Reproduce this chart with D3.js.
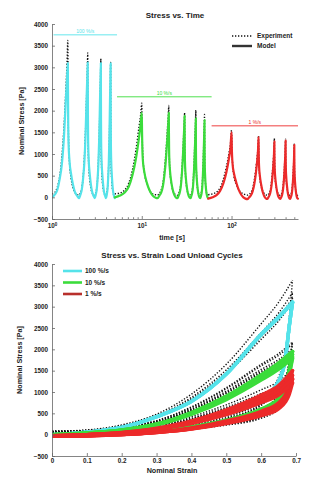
<!DOCTYPE html>
<html>
<head>
<meta charset="UTF-8">
<title>stress vs time / strain</title>
<style>
html, body { margin:0; padding:0; background:#fff; }
svg { display:block; font-family:"Liberation Sans", Arial, sans-serif; }
.axis path, .axis line { stroke:#666; stroke-width:0.8px; }
.axis text { font-size:6.3px; font-weight:bold; fill:#222; }
.title { font-size:8px; font-weight:bold; fill:#222; text-anchor:middle; }
.label { font-size:7.2px; font-weight:bold; fill:#222; text-anchor:middle; }
.legend text { font-size:6.5px; font-weight:bold; fill:#222; }
.rate { font-size:5px; text-anchor:middle; }
.exp { fill:none; stroke:#111; stroke-width:1.4px; stroke-dasharray:1.3 1.7; }
.model { fill:none; stroke-linejoin:round; stroke-linecap:round; }
</style>
<script src="https://cdnjs.cloudflare.com/ajax/libs/d3/7.8.5/d3.min.js"></script>
</head>
<body>
<script>
const rates = ['100 %/s', '10 %/s', '1 %/s'];
const rateColors = ['#55e3ea', '#3bdc3b', '#ec2a2a'];

// strain samples along a loading and an unloading branch
const loadStrain = [0, 0.1, 0.2, 0.3, 0.4, 0.5, 0.6, 0.65, 0.69];
const unloadStrain = [0.69, 0.68, 0.67, 0.65, 0.6, 0.5, 0.4, 0.3, 0.2, 0.1, 0];

// first-cycle branches per rate [Pa]
const modelLoad = [
	[0, 60, 170, 420, 780, 1420, 2350, 2750, 3100],
	[0, 40, 110, 250, 520, 900, 1400, 1680, 1950],
	[-30, 0, 50, 150, 320, 580, 930, 1150, 1500]
];
const modelUnload = [
	[3100, 2500, 1800, 1250, 850, 520, 300, 150, 70, 20, -20],
	[1950, 1500, 1150, 850, 600, 340, 180, 80, 20, -10, -20],
	[1500, 1150, 950, 750, 550, 320, 160, 60, 0, -30, -40]
];
const expLoad = [
	[80, 110, 230, 480, 950, 1650, 2600, 3100, 3620],
	[80, 100, 170, 330, 650, 1100, 1650, 1900, 2170],
	[60, 80, 120, 220, 420, 700, 1050, 1250, 1550]
];
const expUnload = [
	[3620, 2700, 2000, 1350, 800, 420, 230, 130, 80, 60, 50],
	[2170, 1700, 1300, 950, 600, 320, 170, 100, 70, 60, 50],
	[1550, 1250, 1000, 750, 480, 280, 170, 110, 80, 60, 50]
];

// peak stress of every cycle [Pa]
const modelPeaks = [[3100, 3110, 3100, 3090], [1950, 1950, 1880, 1820, 1780], [1500, 1390, 1290, 1310, 1210]];
const expPeaks = [[3620, 3330, 3200, 3110], [2170, 2120, 1950, 2010, 1910], [1550, 1420, 1360, 1340, 1240]];

// cycle edges and peak times [s]
const cycleEdges = [[1, 2, 3, 4, 5], [5, 15, 25, 35, 45, 55], [55, 150, 250, 350, 450, 550]];
const peakTimes = [[1.5, 2.5, 3.5, 4.5], [10, 20, 30, 40, 50], [100, 200, 300, 400, 500]];

// rate markers on the time plot
const rateSpans = [[1.04, 5.3], [5.3, 60], [60, 550]];
const rateLevels = [3750, 2320, 1650];

const stressTicks = [-500, 0, 500, 1000, 1500, 2000, 2500, 3000, 3500, 4000];
const strainTicks = [0, 0.1, 0.2, 0.3, 0.4, 0.5, 0.6, 0.7];
const timeTicks = [1, 10, 100];
const timeMinor = [2, 3, 4, 5, 6, 7, 8, 9, 20, 30, 40, 50, 60, 70, 80, 90, 200, 300, 400, 500];

const W = 332, H = 480;
const svg = d3.select(document.body).append('svg').attr('width', W).attr('height', H);

// one cycle scaled to its own peak
function makeCycle(load, unload, peak) {
	const kl = peak / load[load.length - 1], ku = peak / unload[0];
	return {
		load: loadStrain.map((s, j) => ({s, v: load[j] * kl})),
		unload: unloadStrain.map((s, j) => ({s, v: unload[j] * ku}))
	};
}
const cyclesOf = (load, unload, peaks) => rates.map((_, r) => peaks[r].map(p => makeCycle(load[r], unload[r], p)));
const modelCycles = cyclesOf(modelLoad, modelUnload, modelPeaks);
const expCycles = cyclesOf(expLoad, expUnload, expPeaks);

const sMax = loadStrain[loadStrain.length - 1];
function timeSeries(cycles, r) {
	const pts = [];
	cycles.forEach((c, i) => {
		const t0 = cycleEdges[r][i], tp = peakTimes[r][i], t1 = cycleEdges[r][i + 1];
		c.load.forEach(d => pts.push({t: t0 + d.s / sMax * (tp - t0), v: d.v}));
		c.unload.forEach(d => pts.push({t: tp + (sMax - d.s) / sMax * (t1 - tp), v: d.v}));
	});
	return pts.filter((d, i, a) => i === 0 || d.t > a[i - 1].t);
}

function clip(id, x0, y0, w, h) {
	svg.append('clipPath').attr('id', id).append('rect')
		.attr('x', x0).attr('y', y0).attr('width', w).attr('height', h);
}

/* ---------- stress vs time ---------- */
const xt = d3.scaleLog().domain([1, 550]).range([52, 298]);
const yt = d3.scaleLinear().domain([-500, 4000]).range([219, 24]);
clip('clipTop', 52, 10, 248, 209);

svg.append('text').attr('class', 'title').attr('x', 175).attr('y', 18).text('Stress vs. Time');
svg.append('text').attr('class', 'label').attr('x', 172).attr('y', 240).text('time [s]');
svg.append('text').attr('class', 'label')
	.attr('transform', 'translate(24,121) rotate(-90)').text('Nominal Stress [Pa]');

const plotT = svg.append('g').attr('clip-path', 'url(#clipTop)');
const lineT = d3.line().x(d => xt(d.t)).y(d => yt(d.v)).curve(d3.curveMonotoneX);
rates.forEach((_, r) => {
	plotT.append('path').attr('class', 'exp').attr('d', lineT(timeSeries(expCycles[r], r)));
});
rates.forEach((_, r) => {
	plotT.append('path').attr('class', 'model')
		.attr('stroke', rateColors[r]).attr('stroke-width', 2.2)
		.attr('d', lineT(timeSeries(modelCycles[r], r)));
});

// rate markers
rates.forEach((name, r) => {
	const [a, b] = rateSpans[r];
	svg.append('line').attr('x1', xt(a)).attr('x2', xt(b))
		.attr('y1', yt(rateLevels[r])).attr('y2', yt(rateLevels[r]))
		.attr('stroke', rateColors[r]).attr('stroke-width', 0.9);
	svg.append('text').attr('class', 'rate').attr('fill', rateColors[r])
		.attr('x', xt(Math.sqrt(a * b))).attr('y', yt(rateLevels[r]) - 2).text(name);
});

svg.append('g').attr('class', 'axis').attr('transform', 'translate(52,0)')
	.call(d3.axisLeft(yt).tickValues(stressTicks).tickFormat(d3.format('d'))
		.tickSizeInner(-3).tickSizeOuter(0).tickPadding(4));
const xAxisT = svg.append('g').attr('class', 'axis').attr('transform', 'translate(0,219)');
xAxisT.call(d3.axisBottom(xt).tickValues(timeTicks).tickSizeInner(-3).tickSizeOuter(0).tickPadding(5));
xAxisT.selectAll('.tick text').each(function(d) {
	const t = d3.select(this).text('10');
	t.append('tspan').attr('dy', '-0.45em').style('font-size', '4.5px').text(Math.round(Math.log10(d)));
});
svg.append('g').attr('class', 'axis').attr('transform', 'translate(0,219)')
	.call(d3.axisBottom(xt).tickValues(timeMinor).tickFormat('').tickSizeInner(-1.8).tickSizeOuter(0))
	.select('.domain').remove();

// legend
const legT = svg.append('g').attr('class', 'legend');
legT.append('line').attr('class', 'exp').attr('x1', 232).attr('x2', 252).attr('y1', 36).attr('y2', 36);
legT.append('line').attr('x1', 232).attr('x2', 252).attr('y1', 46).attr('y2', 46)
	.attr('stroke', '#333').attr('stroke-width', 2.4);
legT.append('text').attr('x', 257).attr('y', 38.2).text('Experiment');
legT.append('text').attr('x', 257).attr('y', 48.2).text('Model');

/* ---------- stress vs strain ---------- */
const xs = d3.scaleLinear().domain([0, 0.7]).range([52, 296]);
const ys = d3.scaleLinear().domain([-500, 4000]).range([456, 264]);
clip('clipBot', 52, 250, 248, 206);

svg.append('text').attr('class', 'title').attr('x', 172).attr('y', 257.5).text('Stress vs. Strain Load Unload Cycles');
svg.append('text').attr('class', 'label').attr('x', 172).attr('y', 473).text('Nominal Strain');
svg.append('text').attr('class', 'label')
	.attr('transform', 'translate(22,360) rotate(-90)').text('Nominal Stress [Pa]');

const plotS = svg.append('g').attr('clip-path', 'url(#clipBot)');
const lineS = d3.line().x(d => xs(d.s)).y(d => ys(d.v)).curve(d3.curveMonotoneX);
function loop(g, c, cls, color, width) {
	[c.load, c.unload.slice().reverse()].forEach(branch => {
		const p = g.append('path').attr('class', cls).attr('d', lineS(branch));
		if (color) p.attr('stroke', color).attr('stroke-width', width);
	});
}
rates.forEach((_, r) => expCycles[r].forEach(c => loop(plotS, c, 'exp')));
rates.forEach((_, r) => modelCycles[r].forEach(c => loop(plotS, c, 'model', rateColors[r], 3.4)));

svg.append('g').attr('class', 'axis').attr('transform', 'translate(52,0)')
	.call(d3.axisLeft(ys).tickValues(stressTicks).tickFormat(d3.format('d'))
		.tickSizeInner(-3).tickSizeOuter(0).tickPadding(4));
svg.append('g').attr('class', 'axis').attr('transform', 'translate(0,456)')
	.call(d3.axisBottom(xs).tickValues(strainTicks).tickFormat(d => d === 0 ? '0' : d3.format('.1f')(d))
		.tickSizeInner(-3).tickSizeOuter(0).tickPadding(3));

const legS = svg.append('g').attr('class', 'legend');
rates.forEach((name, r) => {
	const y = 271 + r * 11.5;
	legS.append('line').attr('x1', 63).attr('x2', 82).attr('y1', y).attr('y2', y)
		.attr('stroke', r === 2 ? '#b8302c' : rateColors[r]).attr('stroke-width', 2.6);
	legS.append('text').attr('x', 85).attr('y', y + 2.3).text(name);
});
</script>
</body>
</html>
